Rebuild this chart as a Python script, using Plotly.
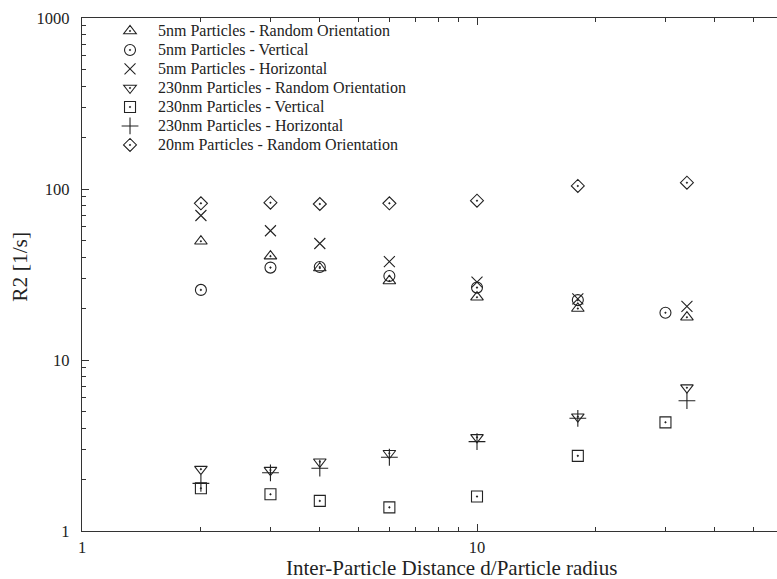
import plotly.graph_objects as go

# ---- data ----
series_names = [
    "5nm Particles - Random Orientation",
    "5nm Particles - Vertical",
    "5nm Particles - Horizontal",
    "230nm Particles - Random Orientation",
    "230nm Particles - Vertical",
    "230nm Particles - Horizontal",
    "20nm Particles - Random Orientation",
]

x_5nm_random = [2, 3, 4, 6, 10, 18, 34]
y_5nm_random = [49.5, 40.5, 34.5, 29.0, 23.3, 20.0, 17.8]

x_5nm_vertical = [2, 3, 4, 6, 10, 18, 30]
y_5nm_vertical = [25.7, 34.7, 35.0, 31.0, 26.5, 22.4, 18.9]

x_5nm_horizontal = [2, 3, 4, 6, 10, 18, 34]
y_5nm_horizontal = [70.0, 57.0, 48.0, 37.6, 28.5, 22.8, 20.6]

x_230nm_random = [2, 3, 4, 6, 10, 18, 34]
y_230nm_random = [2.30, 2.27, 2.54, 2.85, 3.53, 4.66, 6.89]

x_230nm_vertical = [2, 3, 4, 6, 10, 18, 30]
y_230nm_vertical = [1.78, 1.64, 1.50, 1.375, 1.59, 2.75, 4.32]

x_230nm_horizontal = [2, 3, 4, 6, 10, 18, 34]
y_230nm_horizontal = [1.90, 2.19, 2.33, 2.70, 3.33, 4.56, 5.78]

x_20nm_random = [2, 3, 4, 6, 10, 18, 34]
y_20nm_random = [82.5, 83.2, 81.7, 82.5, 85.4, 104.2, 108.9]

x_tick_vals = [1, 10]
x_tick_text = ["1", "10"]
y_tick_vals = [1, 10, 100, 1000]
y_tick_text = ["1", "10", "100", "1000"]

x_title = "Inter-Particle Distance d/Particle radius"
y_title = "R2 [1/s]"

# ---- styles ----
symbols = [
    "triangle-up-open-dot",
    "circle-open-dot",
    "x-thin-open",
    "triangle-down-open-dot",
    "square-open-dot",
    "cross-thin-open",
    "diamond-open-dot",
]
sizes = [11, 11, 11, 11, 11, 12, 10]
ink = "#222222"
FONT = "Liberation Serif"

xs = [x_5nm_random, x_5nm_vertical, x_5nm_horizontal, x_230nm_random,
      x_230nm_vertical, x_230nm_horizontal, x_20nm_random]
ys = [y_5nm_random, y_5nm_vertical, y_5nm_horizontal, y_230nm_random,
      y_230nm_vertical, y_230nm_horizontal, y_20nm_random]

fig = go.Figure()
for name, x, y, sym, sz in zip(series_names, xs, ys, symbols, sizes):
    fig.add_trace(go.Scatter(
        x=x, y=y, mode="markers",
        name="<span style='font-size:16px'>" + name + "</span>",
        marker=dict(symbol=sym, size=sz, color=ink,
                    line=dict(color=ink, width=1.1)),
    ))

x_minor = [m * d for d in (1, 10) for m in range(2, 10)]
y_minor = [m * d for d in (1, 10, 100) for m in range(2, 10)]

axis_common = dict(
    showline=True, linecolor="#333333", linewidth=1.3,
    ticks="inside", ticklen=7, tickwidth=1, tickcolor="#333333",
    showgrid=False, zeroline=False,
    tickfont=dict(family=FONT, size=16.5, color="#222222"),
)

fig.update_xaxes(
    type="log", range=[0, 1.7595], mirror="ticks",
    tickmode="array", tickvals=x_tick_vals, ticktext=x_tick_text,
    minor=dict(tickmode="array", tickvals=x_minor, ticks="inside",
               ticklen=4, tickcolor="#333333", showgrid=False),
    ticklabelstandoff=1,
    **axis_common,
)
fig.update_yaxes(
    type="log", range=[0, 3], mirror=False,
    tickmode="array", tickvals=y_tick_vals, ticktext=y_tick_text,
    minor=dict(tickmode="array", tickvals=y_minor, ticks="inside",
               ticklen=4, tickcolor="#333333", showgrid=False),
    ticklabelstandoff=8,
    **axis_common,
)

fig.add_annotation(
    text=x_title, xref="paper", yref="paper", x=0.531, y=-0.0712,
    xanchor="center", yanchor="middle", showarrow=False,
    font=dict(family=FONT, size=21, color="#222222"),
)
fig.add_annotation(
    text=y_title, xref="paper", yref="paper", x=-0.0896, y=0.5146,
    xanchor="center", yanchor="middle", showarrow=False, textangle=-90,
    font=dict(family=FONT, size=21.5, color="#222222"),
)

fig.update_layout(
    width=777, height=579,
    margin=dict(l=82, r=0, t=18, b=48),
    paper_bgcolor="white", plot_bgcolor="white",
    showlegend=True,
    legend=dict(
        x=0.0288, y=1.003, xanchor="left", yanchor="top",
        bgcolor="rgba(0,0,0,0)", borderwidth=0,
        font=dict(family=FONT, size=12, color="#222222"),
        tracegroupgap=0, itemwidth=46,
    ),
)

fig.write_html("out.html")
